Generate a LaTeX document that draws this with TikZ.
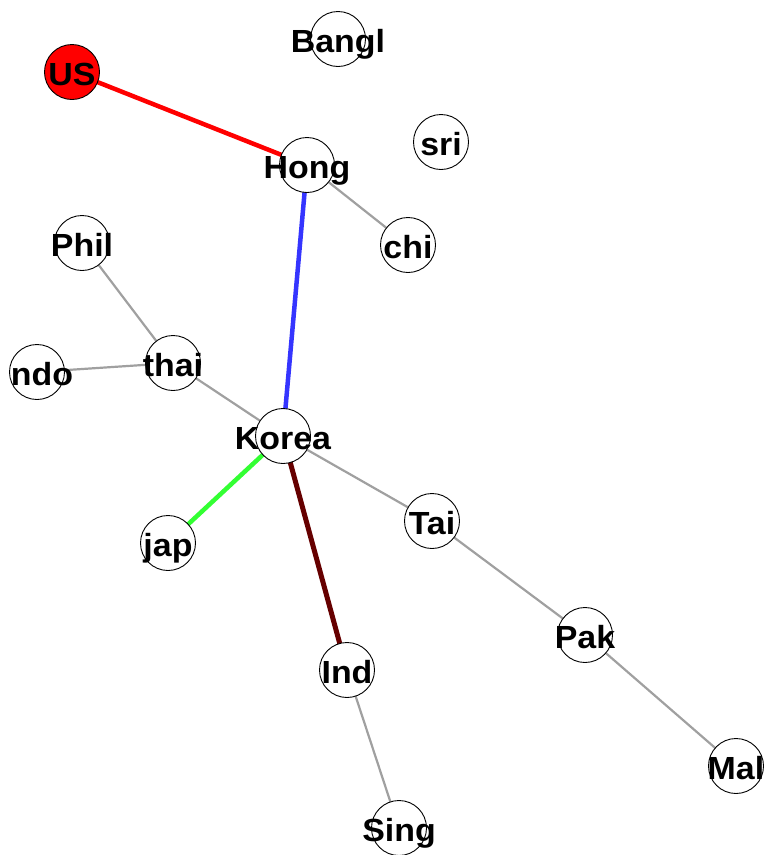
\documentclass[tikz,border=0pt]{standalone}
\usepackage{fontspec}
\newfontfamily\labfont{Liberation Sans}[FakeStretch=1.06]
\usetikzlibrary{backgrounds}
\definecolor{edgegray}{HTML}{A0A0A0}
\definecolor{eblue}{HTML}{3535FF}
\definecolor{egreen}{HTML}{33FF33}
\definecolor{edark}{HTML}{660000}
\tikzset{
  vtx/.style={circle, draw=black, line width=0.9pt, fill=white, minimum size=55pt, inner sep=0pt},
  usvtx/.style={vtx, fill=red},
  lab/.style={inner sep=0pt, anchor=base, yshift=-13pt, font=\labfont\bfseries\fontsize{32}{32}\selectfont, text=black},
  gedge/.style={draw=edgegray, line width=2.2pt},
  thick edge/.style={line width=4.5pt},
}
\begin{document}
\begin{tikzpicture}[x=1pt, y=-1pt]
\useasboundingbox (0,0) rectangle (764,855);
\clip (0,0) rectangle (764,855);
% vertices
\node[usvtx] (us) at (72,72) {};
\node[vtx] (bangl) at (338,39) {};
\node[vtx] (sri) at (441,142) {};
\node[vtx] (hong) at (307,165) {};
\node[vtx] (chi) at (408,245) {};
\node[vtx] (phil) at (82,243) {};
\node[vtx] (thai) at (173,363) {};
\node[vtx] (indo) at (37,372) {};
\node[vtx] (korea) at (283,436) {};
\node[vtx] (jap) at (168,543) {};
\node[vtx] (tai) at (432,521) {};
\node[vtx] (pak) at (585,635) {};
\node[vtx] (ind) at (347,670) {};
\node[vtx] (mal) at (736,766) {};
\node[vtx] (sing) at (399,828) {};
% labels
\node[lab] (us-l) at (us) {US};
\node[lab] (bangl-l) at (bangl) {Bangl};
\node[lab] (sri-l) at (sri) {sri};
\node[lab] (hong-l) at (hong) {Hong};
\node[lab] (chi-l) at (chi) {chi};
\node[lab] (phil-l) at (phil) {Phil};
\node[lab] (thai-l) at (thai) {thai};
\node[lab] (indo-l) at (42,372) {ndo};
\node[lab] (korea-l) at (korea) {Korea};
\node[lab] (jap-l) at (jap) {jap};
\node[lab] (tai-l) at (tai) {Tai};
\node[lab] (pak-l) at (pak) {Pak};
\node[lab] (ind-l) at (ind) {Ind};
\node[lab] (mal-l) at (mal) {Mal};
\node[lab] (sing-l) at (sing) {Sing};
% edges
\begin{scope}[on background layer]
\draw[draw=red, thick edge] (us.center) -- (hong.center);
\draw[draw=eblue, thick edge] (hong.center) -- (korea.center);
\draw[gedge] (hong.center) -- (chi.center);
\draw[gedge] (phil.center) -- (thai.center);
\draw[gedge] (thai.center) -- (indo.center);
\draw[gedge] (thai.center) -- (korea.center);
\draw[draw=egreen, thick edge] (korea.center) -- (jap.center);
\draw[draw=edark, line width=5pt] (korea.center) -- (ind.center);
\draw[gedge] (korea.center) -- (tai.center);
\draw[gedge] (tai.center) -- (pak.center);
\draw[gedge] (pak.center) -- (mal.center);
\draw[gedge] (ind.center) -- (sing.center);
\end{scope}
\end{tikzpicture}
\end{document}
